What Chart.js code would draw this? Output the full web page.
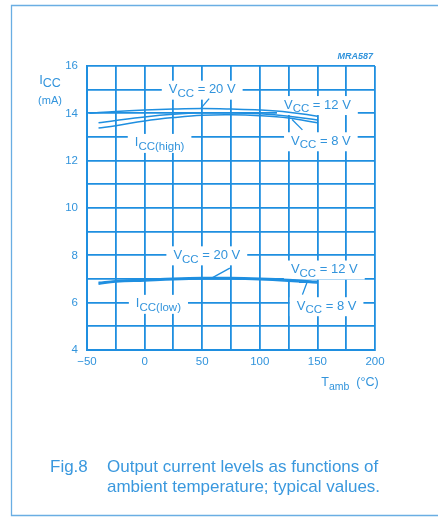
<!DOCTYPE html>
<html>
<head>
<meta charset="utf-8">
<script src="https://cdn.jsdelivr.net/npm/chart.js@4/dist/chart.umd.min.js"></script>
<style>
  html, body { margin: 0; padding: 0; background: #ffffff; }
  canvas { display: block; }
</style>
</head>
<body>
<canvas id="c" width="438" height="521"></canvas>
<script>
// ---------- data ----------
const tempsHigh20 = [-48, -25, 0, 25, 50, 75, 100, 125, 150];
const iccHigh20   = [14.00, 14.08, 14.14, 14.18, 14.20, 14.18, 14.14, 14.05, 13.88];
const tempsHigh12 = [-40, -25, 0, 25, 50, 75, 100, 125, 150];
const iccHigh12   = [13.60, 13.70, 13.85, 13.96, 14.02, 14.02, 13.98, 13.88, 13.72];
const tempsHigh8  = [-40, -25, 0, 25, 50, 75, 100, 125, 150];
const iccHigh8    = [13.38, 13.48, 13.68, 13.82, 13.92, 13.94, 13.90, 13.80, 13.60];

const tempsLow = [-40, -25, 0, 25, 50, 75, 100, 125, 150];
const iccLow20 = [6.86, 6.93, 6.98, 7.03, 7.06, 7.06, 7.03, 6.98, 6.90];
const iccLow12 = [6.82, 6.90, 6.95, 7.00, 7.03, 7.03, 7.00, 6.95, 6.87];
const iccLow8  = [6.78, 6.87, 6.92, 6.97, 7.00, 7.00, 6.97, 6.91, 6.83];

const xTickValues = [-50, 0, 50, 100, 150, 200];
const xTickLabels = ['\u221250', '0', '50', '100', '150', '200'];
const yTickValues = [4, 6, 8, 10, 12, 14, 16];
const yTickLabels = ['4', '6', '8', '10', '12', '14', '16'];

// ---------- styles ----------
const BLUE = '#1f8fe0';
const TEXT = '#3294dc';
const FONT = '"Liberation Sans", Arial, sans-serif';

function pts(xs, ys) { return xs.map((x, i) => ({ x: x, y: ys[i] })); }

// annotations in data coordinates (T, mA)
const labels = [
  { t: 50,  v: 15.0,  parts: [['V', 0], ['CC', 1], [' = 20 V', 0]] },
  { t: 150, v: 14.35, parts: [['V', 0], ['CC', 1], [' = 12 V', 0]] },
  { t: 153, v: 12.82, parts: [['V', 0], ['CC', 1], [' = 8 V', 0]] },
  { t: 13,  v: 12.75, parts: [['I', 0], ['CC(high)', 1]] },
  { t: 54,  v: 8.0,   parts: [['V', 0], ['CC', 1], [' = 20 V', 0]] },
  { t: 156, v: 7.4,   parts: [['V', 0], ['CC', 1], [' = 12 V', 0]] },
  { t: 158, v: 5.85,  parts: [['V', 0], ['CC', 1], [' = 8 V', 0]] },
  { t: 12,  v: 5.95,  parts: [['I', 0], ['CC(low)', 1]] }
];
const pointers = [
  [[49, 14.22], [56, 14.62]],
  [[128, 13.74], [137, 13.3]],
  [[59, 7.06], [74, 7.46]],
  [[134, 6.86], [141, 6.86], [137, 6.34]]
];

function drawParts(ctx, parts, cx, cy, size, subSize, white) {
  const mainF = size + 'px ' + FONT, subF = subSize + 'px ' + FONT;
  let w = 0;
  parts.forEach(p => { ctx.font = p[1] ? subF : mainF; w += ctx.measureText(p[0]).width; });
  if (white) {
    ctx.fillStyle = '#ffffff';
    ctx.fillRect(cx - w / 2 - 7, cy - 9, w + 14, 19);
  }
  let x = cx - w / 2;
  ctx.fillStyle = TEXT;
  ctx.textBaseline = 'middle';
  ctx.textAlign = 'left';
  parts.forEach(p => {
    ctx.font = p[1] ? subF : mainF;
    ctx.fillText(p[0], x, cy + (p[1] ? 4 : 0));
    x += ctx.measureText(p[0]).width;
  });
}

const decor = {
  id: 'decor',
  beforeDatasetsDraw(chart) {
    const ctx = chart.ctx, xs = chart.scales.x, ys = chart.scales.y;
    ctx.save();
    labels.forEach(a => drawParts(ctx, a.parts, xs.getPixelForValue(a.t), ys.getPixelForValue(a.v), 13, 11.5, true));
    ctx.restore();
  },
  afterDatasetsDraw(chart) {
    const ctx = chart.ctx, xs = chart.scales.x, ys = chart.scales.y, ca = chart.chartArea;
    ctx.save();
    ctx.strokeStyle = BLUE; ctx.lineWidth = 1.3;
    pointers.forEach(pl => {
      ctx.beginPath();
      pl.forEach((p, i) => {
        const px = xs.getPixelForValue(p[0]), py = ys.getPixelForValue(p[1]);
        if (i === 0) ctx.moveTo(px, py); else ctx.lineTo(px, py);
      });
      ctx.stroke();
    });
    // axis titles
    drawParts(ctx, [['I', 0], ['CC', 1]], ca.left - 37, ca.top + 14, 13, 12.5, false);
    ctx.font = '11px ' + FONT; ctx.textAlign = 'center'; ctx.fillStyle = TEXT;
    ctx.fillText('(mA)', ca.left - 37, ca.top + 35);
    drawParts(ctx, [['T', 0], ['amb', 1], ['  (\u00b0C)', 0]], ca.right - 25, ca.bottom + 33, 12.5, 10.5, false);
    // figure id
    ctx.font = 'italic bold 9px ' + FONT; ctx.textAlign = 'right'; ctx.fillStyle = TEXT;
    ctx.fillText('MRA587', ca.right - 2, ca.top - 9);
    // caption
    ctx.font = '17px ' + FONT; ctx.textAlign = 'left'; ctx.fillStyle = '#3a98de';
    ctx.fillText('Fig.8', 50, 467);
    ctx.fillText('Output current levels as functions of', 107, 467);
    ctx.fillText('ambient temperature; typical values.', 107, 487);
    // frame
    ctx.strokeStyle = '#6aaee3'; ctx.lineWidth = 1.3;
    ctx.beginPath();
    ctx.moveTo(438, 5.5); ctx.lineTo(11.5, 5.5); ctx.lineTo(11.5, 515.5); ctx.lineTo(438, 515.5);
    ctx.stroke();
    ctx.restore();
  }
};

const lineStyle = { borderColor: BLUE, borderWidth: 1.5, pointRadius: 0, tension: 0.4, fill: false };

new Chart(document.getElementById('c'), {
  type: 'line',
  data: {
    datasets: [
      Object.assign({ label: 'ICC(high) VCC=20V', data: pts(tempsHigh20, iccHigh20) }, lineStyle),
      Object.assign({ label: 'ICC(high) VCC=12V', data: pts(tempsHigh12, iccHigh12) }, lineStyle),
      Object.assign({ label: 'ICC(high) VCC=8V',  data: pts(tempsHigh8,  iccHigh8)  }, lineStyle),
      Object.assign({ label: 'ICC(low) VCC=20V',  data: pts(tempsLow, iccLow20) }, lineStyle),
      Object.assign({ label: 'ICC(low) VCC=12V',  data: pts(tempsLow, iccLow12) }, lineStyle),
      Object.assign({ label: 'ICC(low) VCC=8V',   data: pts(tempsLow, iccLow8)  }, lineStyle)
    ]
  },
  options: {
    responsive: false,
    devicePixelRatio: 1,
    animation: false,
    layout: { padding: { left: 0, top: 66, right: 63, bottom: 151 } },
    plugins: { legend: { display: false }, tooltip: { enabled: false } },
    scales: {
      x: {
        type: 'linear', min: -50, max: 200,
        afterFit(s) { s.height = 20; },
        border: { display: true, color: BLUE, width: 2 },
        grid: { color: BLUE, lineWidth: 1.8, drawTicks: false },
        ticks: {
          stepSize: 25, autoSkip: false, maxRotation: 0, padding: 5,
          color: TEXT, font: { family: FONT, size: 11.5 },
          callback(v) { const i = xTickValues.indexOf(v); return i >= 0 ? xTickLabels[i] : ''; }
        }
      },
      y: {
        type: 'linear', min: 4, max: 16,
        afterFit(s) { s.width = 87; },
        border: { display: true, color: BLUE, width: 2 },
        grid: { color: BLUE, lineWidth: 1.8, drawTicks: false },
        ticks: {
          stepSize: 1, autoSkip: false, padding: 9,
          color: TEXT, font: { family: FONT, size: 11.5 },
          callback(v) { const i = yTickValues.indexOf(v); return i >= 0 ? yTickLabels[i] : ''; }
        }
      }
    }
  },
  plugins: [decor]
});
</script>
</body>
</html>
